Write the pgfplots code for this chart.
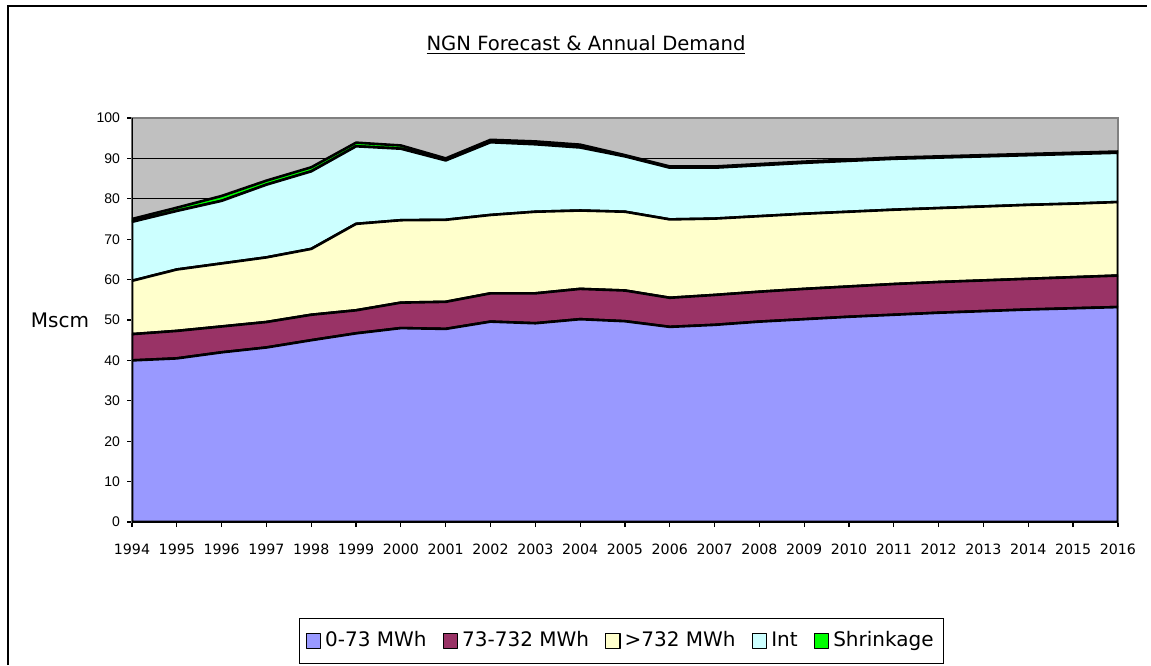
\documentclass[border=0pt]{standalone}
\usepackage{pgfplots}
\pgfplotsset{compat=1.18}
\usepackage{pgfplotstable}
\usepackage{fontspec}
\setmainfont{DejaVu Sans}
\newfontfamily\arialfont{Liberation Sans}
\definecolor{c1}{HTML}{9999FF}
\definecolor{c2}{HTML}{993366}
\definecolor{c3}{HTML}{FFFFCC}
\definecolor{c4}{HTML}{CCFFFF}
\definecolor{c5}{HTML}{00FF00}
\definecolor{bgc}{HTML}{C0C0C0}
\definecolor{bord}{HTML}{808080}
\pgfplotstableread{
year a b c d e
1994 40.0 6.5 13.2 14.6 0.7
1995 40.5 6.8 15.2 14.5 0.8
1996 42.0 6.4 15.6 15.5 1.2
1997 43.2 6.3 16.0 18.0 1.0
1998 45.0 6.3 16.3 19.2 1.0
1999 46.7 5.7 21.4 19.2 0.9
2000 48.0 6.3 20.4 17.7 0.8
2001 47.8 6.7 20.3 14.7 0.5
2002 49.6 7.0 19.4 18.0 0.6
2003 49.2 7.4 20.2 16.7 0.7
2004 50.2 7.5 19.4 15.6 0.7
2005 49.7 7.6 19.5 13.7 0.3
2006 48.3 7.2 19.4 12.8 0.3
2007 48.8 7.4 18.9 12.6 0.3
2008 49.6 7.4 18.7 12.6 0.3
2009 50.2 7.5 18.6 12.6 0.3
2010 50.8 7.5 18.5 12.6 0.3
2011 51.3 7.6 18.4 12.6 0.3
2012 51.8 7.6 18.3 12.5 0.3
2013 52.2 7.6 18.3 12.4 0.3
2014 52.6 7.6 18.3 12.3 0.3
2015 52.9 7.7 18.2 12.3 0.3
2016 53.2 7.8 18.2 12.2 0.3
}\demand
\begin{document}
\begin{tikzpicture}
\useasboundingbox (-66pt,-71.5pt) rectangle (509.5pt,261pt);
\draw[black, line width=0.8pt] (-62pt,-71.5pt) -- (-62pt,258pt) -- (507.5pt,258pt);
\begin{axis}[
  at={(0pt,0pt)}, anchor=origin,
  scale only axis,
  width=493pt, height=202pt,
  xmin=1994, xmax=2016, ymin=0, ymax=100,
  stack plots=y,
  axis background/.style={fill=bgc},
  axis line style={draw=bord, line width=1pt},
  xtick={1994,...,2016},
  xticklabel style={font=\fontsize{7.1}{9}\selectfont},
  xticklabel={\pgfmathprintnumber[1000 sep={},assume math mode=true]{\tick}},
  ytick={0,10,...,100},
  yticklabel style={font=\arialfont\fontsize{7}{8}\selectfont, /pgf/number format/assume math mode=true},
  tick align=outside,
  xtick pos=bottom, ytick pos=left,
  major tick length=2.5pt,
  tick style={black, line width=0.6pt},
  ymajorgrids, grid style={black, line width=0.5pt},
  xticklabel shift=5pt,
  ylabel={Mscm}, ylabel style={rotate=-90, font=\fontsize{10}{11}\selectfont, at={(-36pt,101pt)}, anchor=center},
  legend columns=5,
  legend style={at={(rel axis cs:0.4965,-0.2946)}, anchor=center, draw=black, line width=0.5pt,
     font=\fontsize{10}{12}\selectfont, inner xsep=3pt, inner ysep=4.5pt,
     nodes={text height=7.3pt, text depth=2pt},
     /tikz/every even column/.append style={column sep=6pt}},
  legend image code/.code={\draw[#1, draw=black, line width=0.6pt] (0pt,-3.6pt) rectangle (7.2pt,3.6pt);},
  every axis plot/.append style={draw=black, line width=1.3pt, line join=round},
]
\addplot[fill=c1] table[x=year,y=a]{\demand} \closedcycle;
\addplot[fill=c2] table[x=year,y=b]{\demand} \closedcycle;
\addplot[fill=c3] table[x=year,y=c]{\demand} \closedcycle;
\addplot[fill=c4] table[x=year,y=d]{\demand} \closedcycle;
\addplot[fill=c5] table[x=year,y=e]{\demand} \closedcycle;
\legend{0-73 MWh,73-732 MWh,>732 MWh,Int,Shrinkage}
\draw[black, line width=1.2pt] (rel axis cs:0,0) -- (rel axis cs:0,1);
\draw[black, line width=1.2pt] (rel axis cs:0,0) -- (rel axis cs:1,0);
\end{axis}
\node[font=\fontsize{9.8}{12}\selectfont] at (227pt,238.5pt) {\underline{NGN Forecast \& Annual Demand}};
\end{tikzpicture}
\end{document}
